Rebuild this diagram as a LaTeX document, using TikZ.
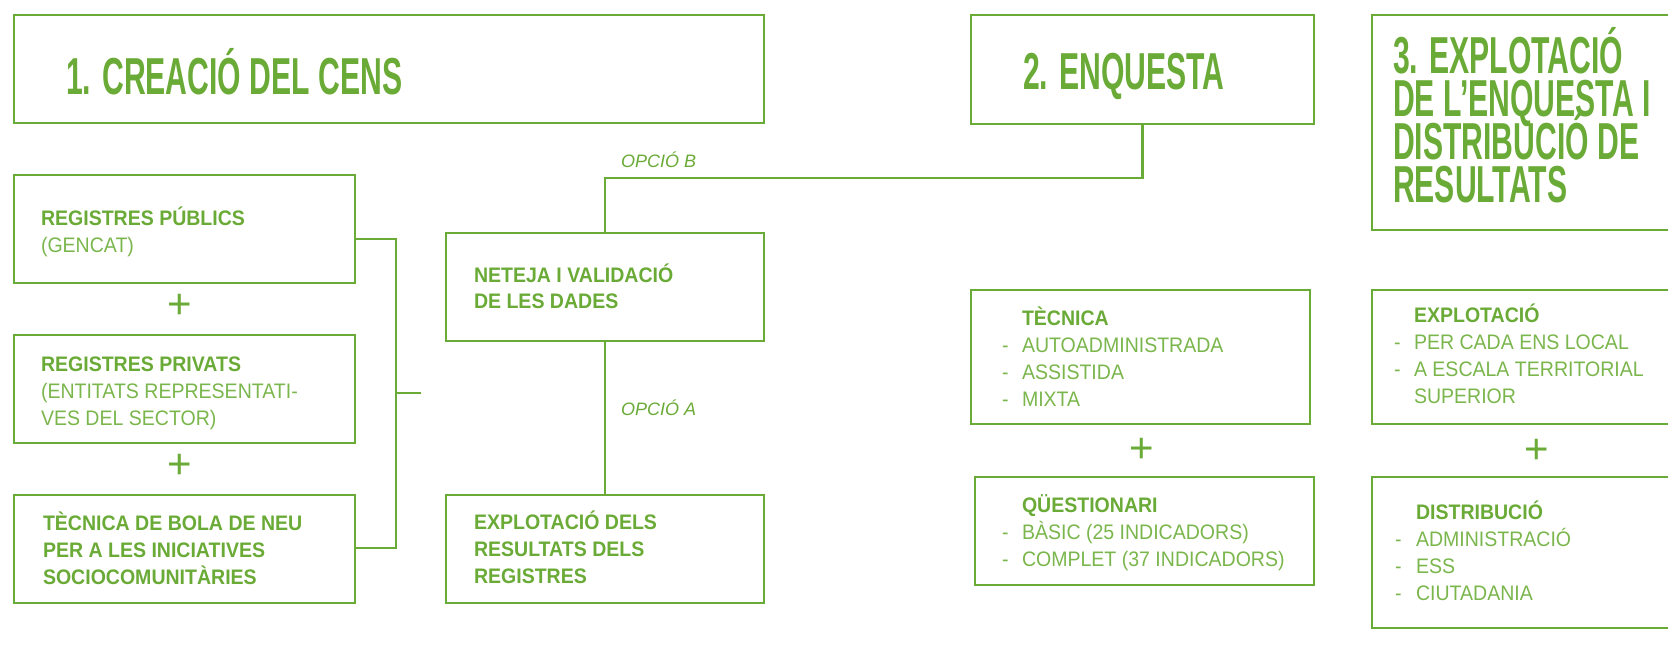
\documentclass[tikz,border=0pt]{standalone}
\usepackage{fontspec}
\setmainfont{Liberation Sans}
\newfontfamily\titlefont[FakeStretch=0.58]{Liberation Sans}
\newfontfamily\bodyfont[FakeStretch=0.93]{Liberation Sans}
\newcommand\tightlines{\lineskiplimit=-100pt\relax}
\definecolor{grn}{RGB}{106,170,54}
\definecolor{lgrn}{RGB}{122,182,76}
\begin{document}
\begin{tikzpicture}[x=1pt,y=-1pt,
  every node/.style={inner sep=0pt, outer sep=0pt},
  box/.style={draw=grn, line width=2.6pt, rectangle, anchor=north west},
  conn/.style={draw=grn, line width=2.6pt, line join=miter},
  title/.style={anchor=base west, text=grn, align=left,
    font=\titlefont\bfseries\fontsize{52}{42.7}\selectfont\tightlines},
  body/.style={anchor=base west, text=grn, align=left,
    font=\bodyfont\fontsize{21}{26.7}\selectfont\tightlines},
  opt/.style={anchor=base west, text=grn,
    font=\itshape\fontsize{18}{20}\selectfont},
  plus/.style={text=grn, font=\fontsize{42}{42}\selectfont}]
\useasboundingbox (0,0) rectangle (1668,661);
\clip (0,0) rectangle (1668,661);

% boxes
\node[box, minimum width=750pt, minimum height=108pt] (b1) at (14,15) {};
\node[box, minimum width=343pt, minimum height=109pt] (b2) at (971,15) {};
\node[box, minimum width=330pt, minimum height=215pt] (b3) at (1372,15) {};
\node[box, minimum width=341pt, minimum height=108pt] (pub) at (14,175) {};
\node[box, minimum width=341pt, minimum height=108pt] (priv) at (14,335) {};
\node[box, minimum width=341pt, minimum height=108pt] (bola) at (14,495) {};
\node[box, minimum width=318pt, minimum height=108pt] (net) at (446,233) {};
\node[box, minimum width=318pt, minimum height=108pt] (exr) at (446,495) {};
\node[box, minimum width=339pt, minimum height=134pt] (tec) at (971,290) {};
\node[box, minimum width=339pt, minimum height=108pt] (qst) at (975,477) {};
\node[box, minimum width=330pt, minimum height=134pt] (exp) at (1372,290) {};
\node[box, minimum width=330pt, minimum height=151pt] (dis) at (1372,477) {};

% titles (multi-line nodes are anchored at the baseline of their last line)
\node[title] (t1) at (66,95) {1. CREACIÓ DEL CENS};
\node[title] (t2) at (1023,89) {2. ENQUESTA};
\node[title] (t3) at (1393,202) {3. EXPLOTACIÓ\\DE L’ENQUESTA I\\DISTRIBUCIÓ DE\\RESULTATS};

% body texts
\node[body] (tpub) at (41,252) {\textbf{REGISTRES PÚBLICS}\\\textcolor{lgrn}{(GENCAT)}};
\node[body] (tpriv) at (41,425) {\textbf{REGISTRES PRIVATS}\\\textcolor{lgrn}{(ENTITATS REPRESENTATI-}\\\textcolor{lgrn}{VES DEL SECTOR)}};
\node[body] (tbola) at (43,584) {\textbf{TÈCNICA DE BOLA DE NEU}\\\textbf{PER A LES INICIATIVES}\\\textbf{SOCIOCOMUNITÀRIES}};
\node[body, font=\bodyfont\fontsize{21}{25.5}\selectfont\tightlines] (tnet) at (474,308) {\textbf{NETEJA I VALIDACIÓ}\\\textbf{DE LES DADES}};
\node[body] (texr) at (474,583) {\textbf{EXPLOTACIÓ DELS}\\\textbf{RESULTATS DELS}\\\textbf{REGISTRES}};
\node[body] (ttec) at (1002,406) {\hspace*{20pt}\textbf{TÈCNICA}\\\textcolor{lgrn}{\makebox[20pt][l]{-}AUTOADMINISTRADA}\\\textcolor{lgrn}{\makebox[20pt][l]{-}ASSISTIDA}\\\textcolor{lgrn}{\makebox[20pt][l]{-}MIXTA}};
\node[body] (tqst) at (1002,566) {\hspace*{20pt}\textbf{QÜESTIONARI}\\\textcolor{lgrn}{\makebox[20pt][l]{-}BÀSIC (25 INDICADORS)}\\\textcolor{lgrn}{\makebox[20pt][l]{-}COMPLET (37 INDICADORS)}};
\node[body] (texp) at (1394,403) {\hspace*{20pt}\textbf{EXPLOTACIÓ}\\\textcolor{lgrn}{\makebox[20pt][l]{-}PER CADA ENS LOCAL}\\\textcolor{lgrn}{\makebox[20pt][l]{-}A ESCALA TERRITORIAL}\\\textcolor{lgrn}{\hspace*{20pt}SUPERIOR}};
\node[body] (tdis) at (1395,600) {\hspace*{21pt}\textbf{DISTRIBUCIÓ}\\\textcolor{lgrn}{\makebox[21pt][l]{-}ADMINISTRACIÓ}\\\textcolor{lgrn}{\makebox[21pt][l]{-}ESS}\\\textcolor{lgrn}{\makebox[21pt][l]{-}CIUTADANIA}};

% plus signs
\node[plus] (p1) at (180,306) {+};
\node[plus] (p2) at (180,466) {+};
\node[plus] (p3) at (1142,450) {+};
\node[plus] (p4) at (1537,451) {+};

% option labels
\node[opt] (ob) at (621,167) {OPCIÓ B};
\node[opt] (oa) at (621,415) {OPCIÓ A};

% connectors
\coordinate (bt) at (396,239);
\coordinate (bb) at (396,548);
\coordinate (bm) at (396,393);
\coordinate (tk) at (421,393);
\draw[conn] (pub.east |- bt) -- (bt) -- (bb) -- (bola.east |- bb);
\draw[conn] (bm) -- (tk);
\draw[conn] (net.south) -- (exr.north);
\draw[conn] (b2.south) -- ++(0,54) -| (net.north);
\end{tikzpicture}
\end{document}
